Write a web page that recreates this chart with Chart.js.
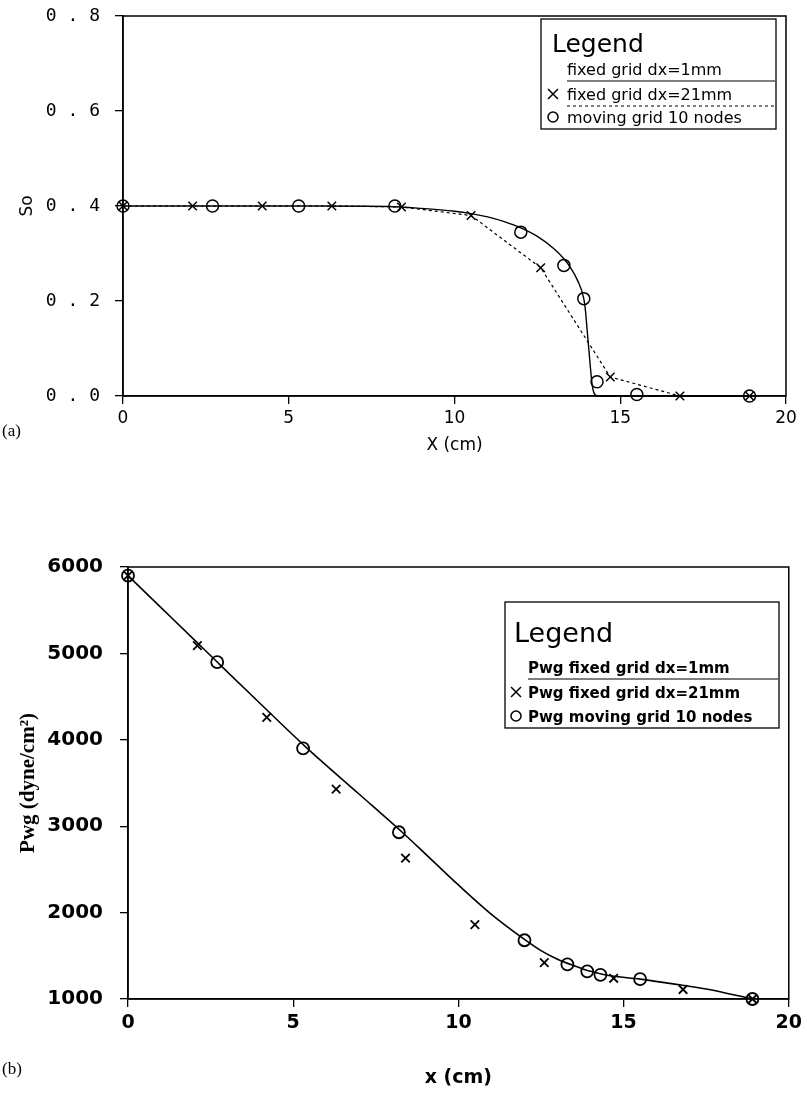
<!DOCTYPE html>
<html>
<head>
<meta charset="utf-8">
<script src="https://cdn.jsdelivr.net/npm/chart.js@4.4.1/dist/chart.umd.min.js"></script>
<style>
  body { margin: 0; background: #fff; width: 807px; height: 1101px; position: relative; overflow: hidden; }
  .box { position: absolute; left: 0; }
  .tag { position: absolute; font-family: "Liberation Serif", serif; font-size: 17px; color: #000; }
</style>
</head>
<body>
<div class="box" style="top:0"><canvas id="soChart" width="807" height="460"></canvas></div>
<div class="box" style="top:540px"><canvas id="pwgChart" width="807" height="561"></canvas></div>
<div class="tag" style="left:2px;top:421px">(a)</div>
<div class="tag" style="left:2px;top:1059px">(b)</div>
<script>
// (a) saturation So along x
const soFineX = [0, 2, 4, 6, 8, 9, 10, 10.5, 11, 11.5, 12, 12.5, 13, 13.3, 13.5, 13.7, 13.9, 13.95, 14.0, 14.05, 14.1, 14.15, 14.2, 14.3, 16, 19];
const soFineY = [0.4, 0.4, 0.4, 0.4, 0.399, 0.395, 0.389, 0.384, 0.377, 0.367, 0.354, 0.336, 0.31, 0.289, 0.27, 0.245, 0.205, 0.18, 0.14, 0.10, 0.06, 0.025, 0.008, 0, 0, 0];
const soCoarseX = [0, 2.1, 4.2, 6.3, 8.4, 10.5, 12.6, 14.7, 16.8, 18.9];
const soCoarseY = [0.4, 0.4, 0.4, 0.4, 0.398, 0.38, 0.27, 0.04, 0, 0];
const soMovingX = [0, 2.7, 5.3, 8.2, 12.0, 13.3, 13.9, 14.3, 15.5, 18.9];
const soMovingY = [0.4, 0.4, 0.4, 0.4, 0.345, 0.275, 0.205, 0.03, 0.003, 0];
const soTicks = ['0 . 0', '0 . 2', '0 . 4', '0 . 6', '0 . 8'];

// (b) gas pressure Pwg along x
const pwgFineX = [0, 1, 2, 2.7, 4, 5.4, 7, 8.3, 9, 10, 11, 12, 12.5, 13, 13.5, 14, 14.5, 15.5, 16.5, 17.5, 18.9];
const pwgFineY = [5900, 5530, 5160, 4900, 4420, 3910, 3370, 2930, 2680, 2320, 1980, 1690, 1560, 1460, 1385, 1320, 1275, 1230, 1175, 1115, 1000];
const pwgCoarseX = [0, 2.1, 4.2, 6.3, 8.4, 10.5, 12.6, 14.7, 16.8, 18.9];
const pwgCoarseY = [5900, 5090, 4260, 3430, 2630, 1860, 1420, 1240, 1110, 1000];
const pwgMovingX = [0, 2.7, 5.3, 8.2, 12.0, 13.3, 13.9, 14.3, 15.5, 18.9];
const pwgMovingY = [5900, 4900, 3900, 2930, 1680, 1400, 1320, 1280, 1230, 1000];
const pwgTicks = ['1000', '2000', '3000', '4000', '5000', '6000'];

const pts = (xs, ys) => xs.map((x, i) => ({ x, y: ys[i] }));

// box round the plot area + the hand drawn style legend
function frameLegend(cfg) {
    return {
        id: 'frameLegend',
        afterDraw(chart) {
            const ctx = chart.ctx;
            const a = chart.chartArea;
            ctx.save();
            ctx.strokeStyle = '#000';
            ctx.lineWidth = 1.5;
            ctx.strokeRect(a.left, a.top, a.right - a.left, a.bottom - a.top);

            ctx.lineWidth = 1.3;
            ctx.strokeRect(cfg.x, cfg.y, cfg.w, cfg.h);
            ctx.fillStyle = '#000';
            ctx.textBaseline = 'alphabetic';
            ctx.font = cfg.titleFont;
            ctx.fillText('Legend', cfg.x + cfg.titleDx, cfg.y + cfg.titleDy);
            ctx.font = cfg.font;
            cfg.rows.forEach((r, i) => {
                const ty = cfg.y + cfg.rowY[i];
                const tx = cfg.x + cfg.textDx;
                ctx.fillText(r.text, tx, ty);
                if (r.line) {
                    ctx.beginPath();
                    ctx.setLineDash(r.line === 'dash' ? [3, 3] : []);
                    ctx.lineWidth = 1.2;
                    ctx.moveTo(tx, ty + 6);
                    ctx.lineTo(cfg.x + cfg.w - 1, ty + 6);
                    ctx.stroke();
                    ctx.setLineDash([]);
                }
                const mx = cfg.x + cfg.markerDx, my = ty - 6;
                ctx.lineWidth = 1.5;
                if (r.marker === 'x') {
                    ctx.beginPath();
                    ctx.moveTo(mx - 5, my - 5); ctx.lineTo(mx + 5, my + 5);
                    ctx.moveTo(mx + 5, my - 5); ctx.lineTo(mx - 5, my + 5);
                    ctx.stroke();
                } else if (r.marker === 'o') {
                    ctx.beginPath();
                    ctx.arc(mx, my, 5, 0, Math.PI * 2);
                    ctx.stroke();
                }
            });
            ctx.restore();
        }
    };
}

function axisBase(min, max, step) {
    return {
        type: 'linear',
        min, max,
        border: { color: '#000', width: 1.5 },
        grid: { drawOnChartArea: false, drawTicks: true, tickLength: 8, color: '#000', lineWidth: 1.3 },
        ticks: { stepSize: step, color: '#000' }
    };
}

const soX = axisBase(0, 20, 5);
soX.ticks.font = { family: 'DejaVu Sans', size: 17 };
soX.ticks.padding = 4;
soX.title = { display: true, text: 'X (cm)', color: '#000', font: { family: 'DejaVu Sans', size: 17 }, padding: { top: 0, bottom: 4 } };
soX.afterFit = s => { s.height = 64; };

const soY = axisBase(0, 0.8, 0.2);
soY.ticks.font = { family: 'DejaVu Sans Mono', size: 18 };
soY.ticks.padding = 15;
soY.ticks.callback = (v) => soTicks[Math.round(v / 0.2)];
soY.title = { display: true, text: 'So', color: '#000', font: { family: 'DejaVu Sans', size: 17 }, padding: { top: 17, bottom: 0 } };
soY.afterFit = s => { s.width = 123; s.paddingTop = 0; s.paddingBottom = 0; };

new Chart(document.getElementById('soChart').getContext('2d'), {
    type: 'scatter',
    data: {
        datasets: [{
            label: 'fixed grid dx=1mm',
            data: pts(soFineX, soFineY),
            showLine: true,
            borderColor: '#000',
            borderWidth: 1.4,
            pointRadius: 0,
            cubicInterpolationMode: 'monotone',
            clip: false
        }, {
            label: 'fixed grid dx=21mm',
            data: pts(soCoarseX, soCoarseY),
            showLine: true,
            borderColor: '#000',
            borderWidth: 1.2,
            borderDash: [3, 3],
            pointStyle: 'crossRot',
            pointRadius: 6,
            pointBorderWidth: 1.5,
            pointBorderColor: '#000',
            clip: false
        }, {
            label: 'moving grid 10 nodes',
            data: pts(soMovingX, soMovingY),
            showLine: false,
            pointStyle: 'circle',
            pointRadius: 6,
            pointBorderWidth: 1.5,
            pointBorderColor: '#000',
            pointBackgroundColor: 'rgba(255,255,255,0)',
            clip: false
        }]
    },
    options: {
        responsive: false,
        animation: false,
        layout: { padding: { top: 16, right: 21, left: 0, bottom: 0 } },
        plugins: { legend: { display: false }, tooltip: { enabled: false } },
        scales: { x: soX, y: soY }
    },
    plugins: [frameLegend({
        x: 541, y: 19, w: 235, h: 110,
        titleFont: '25px "DejaVu Sans"', titleDx: 11, titleDy: 33,
        font: '16px "DejaVu Sans"', textDx: 26, markerDx: 12,
        rowY: [56, 81, 104],
        rows: [
            { text: 'fixed grid dx=1mm', line: 'solid' },
            { text: 'fixed grid dx=21mm', line: 'dash', marker: 'x' },
            { text: 'moving grid 10 nodes', marker: 'o' }
        ]
    })]
});

const pwgX = axisBase(0, 20, 5);
pwgX.ticks.font = { family: 'DejaVu Sans', size: 19, weight: 'bold' };
pwgX.ticks.padding = 5;
pwgX.title = { display: true, text: 'x (cm)', color: '#000', font: { family: 'DejaVu Sans', size: 19, weight: 'bold' }, padding: { top: 0, bottom: 12 } };
pwgX.afterFit = s => { s.height = 102; };

const pwgY = axisBase(1000, 6000, 1000);
pwgY.ticks.font = { family: 'DejaVu Sans', size: 20, weight: 'bold' };
pwgY.ticks.padding = 17;
pwgY.ticks.callback = (v) => pwgTicks[Math.round((v - 1000) / 1000)];
pwgY.title = { display: true, text: 'Pwg (dyne/cm²)', color: '#000', font: { family: 'Liberation Serif', size: 21, weight: 'bold' }, padding: { top: 16, bottom: 0 } };
pwgY.afterFit = s => { s.width = 128; s.paddingTop = 0; s.paddingBottom = 0; };

new Chart(document.getElementById('pwgChart').getContext('2d'), {
    type: 'scatter',
    data: {
        datasets: [{
            label: 'Pwg fixed grid dx=1mm',
            data: pts(pwgFineX, pwgFineY),
            showLine: true,
            borderColor: '#000',
            borderWidth: 1.6,
            pointRadius: 0,
            cubicInterpolationMode: 'monotone',
            clip: false
        }, {
            label: 'Pwg fixed grid dx=21mm',
            data: pts(pwgCoarseX, pwgCoarseY),
            showLine: false,
            pointStyle: 'crossRot',
            pointRadius: 6,
            pointBorderWidth: 1.8,
            pointBorderColor: '#000',
            clip: false
        }, {
            label: 'Pwg moving grid 10 nodes',
            data: pts(pwgMovingX, pwgMovingY),
            showLine: false,
            pointStyle: 'circle',
            pointRadius: 6,
            pointBorderWidth: 1.8,
            pointBorderColor: '#000',
            pointBackgroundColor: 'rgba(255,255,255,0)',
            clip: false
        }]
    },
    options: {
        responsive: false,
        animation: false,
        layout: { padding: { top: 27, right: 17, left: 0, bottom: 0 } },
        plugins: { legend: { display: false }, tooltip: { enabled: false } },
        scales: { x: pwgX, y: pwgY }
    },
    plugins: [frameLegend({
        x: 505, y: 62, w: 274, h: 126,
        titleFont: '27px "DejaVu Sans"', titleDx: 9, titleDy: 40,
        font: 'bold 15px "DejaVu Sans"', textDx: 23, markerDx: 11,
        rowY: [71, 96, 120],
        rows: [
            { text: 'Pwg fixed grid dx=1mm', line: 'solid' },
            { text: 'Pwg fixed grid dx=21mm', marker: 'x' },
            { text: 'Pwg moving grid 10 nodes', marker: 'o' }
        ]
    })]
});
</script>
</body>
</html>
